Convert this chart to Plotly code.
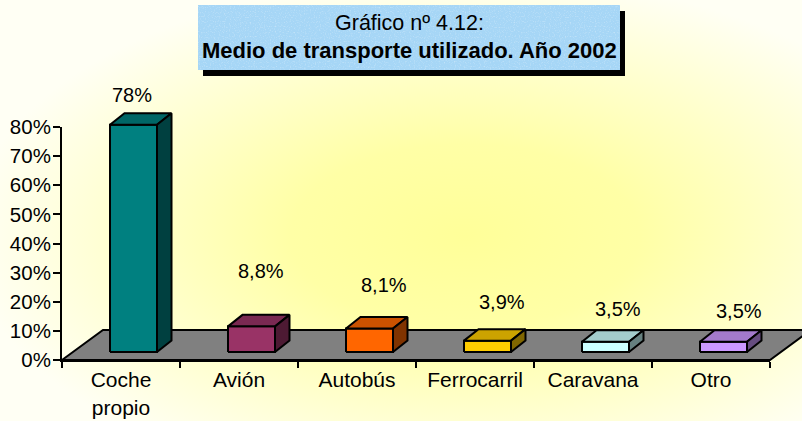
import base64
import plotly.graph_objects as go

# ---------------- data ----------------
categories = ["Coche<br>propio", "Avión", "Autobús", "Ferrocarril", "Caravana", "Otro"]
values = [78, 8.8, 8.1, 3.9, 3.5, 3.5]
y_ticks = [0, 10, 20, 30, 40, 50, 60, 70, 80]
title_line1 = "Gráfico nº 4.12:"
title_line2 = "Medio de transporte utilizado. Año 2002"

# ---------------- styles ----------------
front_colors = ["#008080", "#993366", "#FF6600", "#FFCC00", "#CCFFFF", "#CC99FF"]
top_colors = ["#006666", "#7A2952", "#CC5200", "#CCA300", "#A3CCCC", "#A37ACC"]
side_colors = ["#004040", "#4D1A33", "#803300", "#806600", "#668080", "#664D80"]
FLOOR_COLOR = "#808080"
FONT = "Liberation Sans, Arial, sans-serif"

# label placement (offset in category units, height in % units)
label_dx = [0.09, 0.19, 0.225, 0.225, 0.21, 0.235]
label_y = [91.0, 30.6, 25.9, 19.8, 17.4, 16.7]

# ---------------- layout geometry (pixels) ----------------
W, H = 802, 421
L, R = 62, 770          # x extent of the category axis
Y0, Y80 = 360, 127      # pixel rows of 0% and 80%
n = len(categories)
ppu_x = (R - L) / n
ppu_y = (Y0 - Y80) / 80.0

# 3D geometry in axis units
FLOOR_DX, FLOOR_DY = 41 / ppu_x, 30 / ppu_y
FACE_DX, FACE_DY = 12.5 / ppu_x, 8 / ppu_y
BAR_DX, BAR_DY = 14.5 / ppu_x, 11.5 / ppu_y
HALF_W = 23.5 / ppu_x

x2_range = [-0.5 - L / ppu_x, -0.5 + (W - L) / ppu_x]
y2_range = [-(H - Y0) / ppu_y, Y0 / ppu_y]


def fmt(v):
    s = ("%g" % v).replace(".", ",")
    return s + "%"


fig = go.Figure()

# invisible trace to establish the category axis
fig.add_trace(go.Scatter(x=categories, y=values, mode="none", showlegend=False,
                         hoverinfo="skip", xaxis="x", yaxis="y"))


def poly(xs, ys, fill):
    fig.add_trace(go.Scatter(
        x=xs + [xs[0]], y=ys + [ys[0]], mode="lines", fill="toself",
        fillcolor=fill, line=dict(color="black", width=2),
        showlegend=False, hoverinfo="skip", xaxis="x2", yaxis="y2"))


# floor
poly([-0.5, n - 0.5, n - 0.5 + FLOOR_DX, -0.5 + FLOOR_DX],
     [0, 0, FLOOR_DY, FLOOR_DY], FLOOR_COLOR)

# bars
for i, v in enumerate(values):
    xl = i + FACE_DX - HALF_W
    xr = i + FACE_DX + HALF_W
    yb = FACE_DY
    yt = FACE_DY + v
    poly([xl, xr, xr, xl], [yb, yb, yt, yt], front_colors[i])
    poly([xl, xr, xr + BAR_DX, xl + BAR_DX], [yt, yt, yt + BAR_DY, yt + BAR_DY], top_colors[i])
    poly([xr, xr + BAR_DX, xr + BAR_DX, xr], [yb, yb + BAR_DY, yt + BAR_DY, yt], side_colors[i])

# value labels
annotations = []
for i, v in enumerate(values):
    annotations.append(dict(x=i + label_dx[i], y=label_y[i], xref="x2", yref="y2",
                            text=fmt(v), showarrow=False,
                            font=dict(family=FONT, size=20, color="black"),
                            xanchor="center", yanchor="middle"))


def px(x):
    return x / W


def py(y):
    return 1 - y / H


# title box (textured light-blue panel with a black drop shadow)
bx0, by0, bw, bh = 198, 5, 422, 65
sh_dx, sh_dy = 5, 6
box_svg = (
    f'<svg xmlns="http://www.w3.org/2000/svg" width="{bw + sh_dx}" height="{bh + sh_dy}">'
    '<defs><filter id="n" x="0" y="0" width="100%" height="100%">'
    '<feTurbulence type="fractalNoise" baseFrequency="0.8" numOctaves="1" seed="3"/>'
    '<feColorMatrix type="matrix" values="0 0 0 0 1  0 0 0 0 1  0 0 0 0 1  2.2 0 0 0 -1.15"/>'
    '</filter></defs>'
    f'<rect x="{sh_dx}" y="{sh_dy}" width="{bw}" height="{bh}" fill="black"/>'
    f'<rect x="0" y="0" width="{bw}" height="{bh}" fill="#A6D6F6"/>'
    f'<rect x="0" y="0" width="{bw}" height="{bh}" filter="url(#n)" opacity="0.45"/>'
    '</svg>')
box_src = "data:image/svg+xml;base64," + base64.b64encode(box_svg.encode()).decode()

annotations.append(dict(x=px(409), y=py(23), xref="paper", yref="paper",
                        text=title_line1, showarrow=False,
                        font=dict(family=FONT, size=21.5, color="black"),
                        xanchor="center", yanchor="middle"))
annotations.append(dict(x=px(409), y=py(51), xref="paper", yref="paper",
                        text="<b>" + title_line2 + "</b>", showarrow=False,
                        font=dict(family=FONT, size=22, color="black"),
                        xanchor="center", yanchor="middle"))

# background gradient
svg = ('<svg xmlns="http://www.w3.org/2000/svg" width="802" height="421">'
       '<defs><radialGradient id="g" cx="0.58" cy="0.56" r="0.62">'
       '<stop offset="0" stop-color="#FFFF99"/>'
       '<stop offset="0.35" stop-color="#FFFFA6"/>'
       '<stop offset="1" stop-color="#FFFFF4"/>'
       '</radialGradient></defs>'
       '<rect width="802" height="421" fill="url(#g)"/></svg>')
src = "data:image/svg+xml;base64," + base64.b64encode(svg.encode()).decode()

fig.update_layout(
    width=W, height=H,
    margin=dict(l=0, r=0, t=0, b=0, autoexpand=False),
    paper_bgcolor="white", plot_bgcolor="rgba(0,0,0,0)",
    showlegend=False,
    images=[
        dict(source=src, xref="paper", yref="paper", x=0, y=1,
             sizex=1, sizey=1, sizing="stretch", layer="below",
             xanchor="left", yanchor="top"),
        dict(source=box_src, xref="paper", yref="paper", x=px(bx0), y=py(by0),
             sizex=(bw + sh_dx) / W, sizey=(bh + sh_dy) / H, sizing="stretch",
             layer="above", xanchor="left", yanchor="top"),
    ],
    xaxis=dict(domain=[px(L), px(R)], type="category", categoryorder="array",
               categoryarray=categories, range=[-0.5, n - 0.5],
               tickson="boundaries", ticks="outside",
               ticklen=6, tickwidth=2, tickcolor="black", showline=True,
               linecolor="black", linewidth=2, showgrid=False, zeroline=False,
               tickfont=dict(family=FONT, size=21, color="black"),
               fixedrange=True, anchor="y", automargin=False),
    yaxis=dict(domain=[py(Y0), py(Y80)], range=[0, 80], tickvals=y_ticks,
               ticktext=[f"{t}%" for t in y_ticks], ticks="outside", ticklen=7,
               tickwidth=2, tickcolor="black", showline=True, linecolor="black",
               linewidth=2, showgrid=False, zeroline=False,
               ticklabelstandoff=-2,
               tickfont=dict(family=FONT, size=20.5, color="black"),
               fixedrange=True, anchor="x", automargin=False),
    xaxis2=dict(domain=[0, 1], range=x2_range, visible=False, anchor="y2",
                fixedrange=True, automargin=False),
    yaxis2=dict(domain=[0, 1], range=y2_range, visible=False, anchor="x2",
                fixedrange=True, automargin=False),
    annotations=annotations,
)

fig.write_html(
    "out.html",
    config={"displayModeBar": False},
    post_script="document.body.style.margin='0';document.body.style.overflow='hidden';",
)
